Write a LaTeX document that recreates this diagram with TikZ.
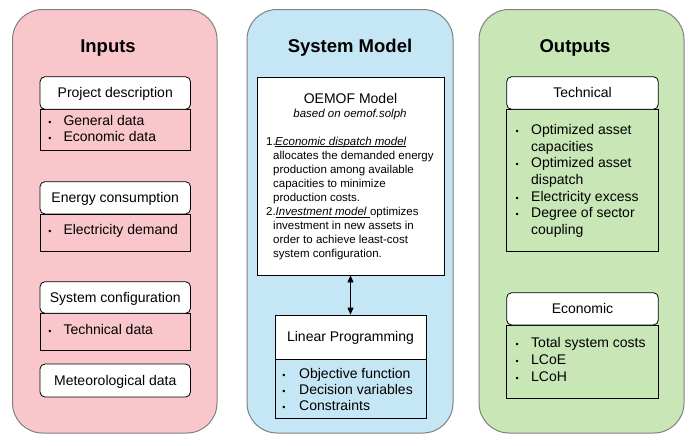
\documentclass[tikz,border=0pt]{standalone}
\usepackage{fontspec}
\setmainfont{Liberation Sans}
\usetikzlibrary{arrows.meta}
\definecolor{pinkbg}{HTML}{F9C6CC}
\definecolor{bluebg}{HTML}{C4E6F5}
\definecolor{greenbg}{HTML}{C9E6B6}
\definecolor{framegray}{HTML}{808080}
\tikzset{
  bigbox/.style={draw=framegray, line width=1pt, rounded corners=30pt},
  hdr/.style={draw=black, fill=white, rounded corners=5pt, line width=0.8pt,
    font=\fontsize{14}{16}\selectfont, text height=11pt, text depth=2pt, inner sep=0pt},
  sqbox/.style={draw=black, fill=white, line width=0.8pt, inner sep=0pt},
  bodybox/.style={draw=black, line width=0.8pt, inner sep=0pt},
  titletext/.style={font=\bfseries\fontsize{18.5}{20}\selectfont, anchor=base, inner sep=0pt},
  hdrtext/.style={font=\fontsize{14}{16}\selectfont, anchor=base, inner sep=0pt},
  itm/.style={font=\fontsize{14}{16}\selectfont, anchor=base west, inner sep=0pt},
  bul/.style={font=\fontsize{9}{9}\selectfont, anchor=base, inner sep=0pt},
  smalltext/.style={font=\fontsize{11.5}{14}\selectfont, anchor=base west, inner sep=0pt},
  dblarrow/.style={{Triangle[width=6pt,length=7pt]}-{Triangle[width=6pt,length=7pt]}, line width=0.8pt},
}
\newcommand\myitem[5]{%
  \node[bul] (#1b) at (#2,#4) {•};
  \node[itm] (#1) at (#3,#4) {#5};}
\newcommand\myline[3]{\node[itm] (#1) at (#2) {#3};}
\begin{document}
\begin{tikzpicture}[x=1pt,y=-1pt]
\useasboundingbox (0,0) rectangle (698,445);
% big columns
\draw[bigbox, fill=pinkbg] (12.5,9.5) rectangle (217,433);
\draw[bigbox, fill=bluebg] (247,9.5) rectangle (453,433);
\draw[bigbox, fill=greenbg] (479,9.5) rectangle (684,433);
\node[titletext] (tin) at (108,52) {Inputs};
\node[titletext] (tsm) at (350,52) {System Model};
\node[titletext] (tout) at (575,52) {Outputs};

% ---------- Inputs ----------
\node[bodybox, minimum width=150.5pt, minimum height=41pt] (pdb) at (115.25,129.5) {};
\node[hdr, minimum width=150.5pt, minimum height=32.6pt] (pdh) at (115.25,93) {Project description};
\myitem{pd1}{50}{63.3}{125}{General data}
\myitem{pd2}{50}{63.3}{141.7}{Economic data}

\node[bodybox, minimum width=150.5pt, minimum height=37pt] (ecb) at (115.25,232.5) {};
\node[hdr, minimum width=150.5pt, minimum height=32.3pt] (ech) at (115.25,197.8) {Energy consumption};
\myitem{ec1}{50}{63.3}{234.3}{Electricity demand}

\node[bodybox, minimum width=150.5pt, minimum height=36.7pt] (scb) at (115.25,331.6) {};
\node[hdr, minimum width=150.5pt, minimum height=31.6pt] (sch) at (115.25,297.5) {System configuration};
\myitem{sc1}{50}{63.3}{334}{Technical data}

\node[hdr, minimum width=150.5pt, minimum height=33pt] (met) at (115.25,380.5) {Meteorological data};

% ---------- System model ----------
\node[sqbox, minimum width=187pt, minimum height=198pt] (oem) at (350.5,176) {};
\node[hdrtext] (omt) at (350.5,103) {OEMOF Model};
\node[font=\itshape\fontsize{11.5}{14}\selectfont, anchor=base, inner sep=0pt] (omb) at (350,117.5) {based on oemof.solph};
\node[smalltext] (n1) at (266,145) {1.};
\node[smalltext] (l1) at (275,145) {\itshape Economic dispatch model};
\draw[line width=0.6pt] ([yshift=-1.6pt]l1.base west) -- ([yshift=-1.6pt]l1.base east);
\node[smalltext] (l2) at (273,159.1) {allocates the demanded energy};
\node[smalltext] (l3) at (273,173.2) {production among available};
\node[smalltext] (l4) at (273,187.3) {capacities to minimize};
\node[smalltext] (l5) at (273,201.4) {production costs.};
\node[smalltext] (n2) at (266,215.5) {2.};
\node[smalltext] (l6) at (275.5,215.5) {\itshape Investment model};
\draw[line width=0.6pt] ([yshift=-1.6pt]l6.base west) -- ([yshift=-1.6pt,xshift=3.2pt]l6.base east);
\node[smalltext] (l6b) at ([xshift=3.2pt]l6.base east) {optimizes};
\node[smalltext] (l7) at (273,229.6) {investment in new assets in};
\node[smalltext] (l8) at (273,243.7) {order to achieve least-cost};
\node[smalltext] (l9) at (273,257.8) {system configuration.};

\node[bodybox, minimum width=151pt, minimum height=59pt] (lpb) at (350.5,388.5) {};
\node[sqbox, minimum width=151pt, minimum height=44pt, font=\fontsize{14}{16}\selectfont, text height=11pt, text depth=2pt] (lph) at (350.5,337) {Linear Programming};
\myitem{lp1}{284}{299}{378.3}{Objective function}
\myitem{lp2}{284}{299}{394.3}{Decision variables}
\myitem{lp3}{284}{299}{410.3}{Constraints}
\draw[dblarrow] (oem.south) -- (lph.north);

% ---------- Outputs ----------
\node[bodybox, minimum width=151.6pt, minimum height=141.7pt] (teb) at (582.5,180.15) {};
\node[hdr, minimum width=151.6pt, minimum height=32.6pt] (teh) at (582.5,93) {Technical};
\myitem{te1}{517.3}{531}{134.3}{Optimized asset}
\myline{te1c}{531,151}{capacities}
\myitem{te2}{517.3}{531}{167.6}{Optimized asset}
\myline{te2c}{531,184.3}{dispatch}
\myitem{te3}{517.3}{531}{201}{Electricity excess}
\myitem{te4}{517.3}{531}{217.6}{Degree of sector}
\myline{te4c}{531,234.3}{coupling}

\node[bodybox, minimum width=151.6pt, minimum height=73.3pt] (eob) at (582.5,361.65) {};
\node[hdr, minimum width=151.6pt, minimum height=32.3pt] (eoh) at (582.5,308.85) {Economic};
\myitem{eo1}{517.3}{531}{347.7}{Total system costs}
\myitem{eo2}{517.3}{531}{364.3}{LCoE}
\myitem{eo3}{517.3}{531}{381}{LCoH}
\end{tikzpicture}
\end{document}
